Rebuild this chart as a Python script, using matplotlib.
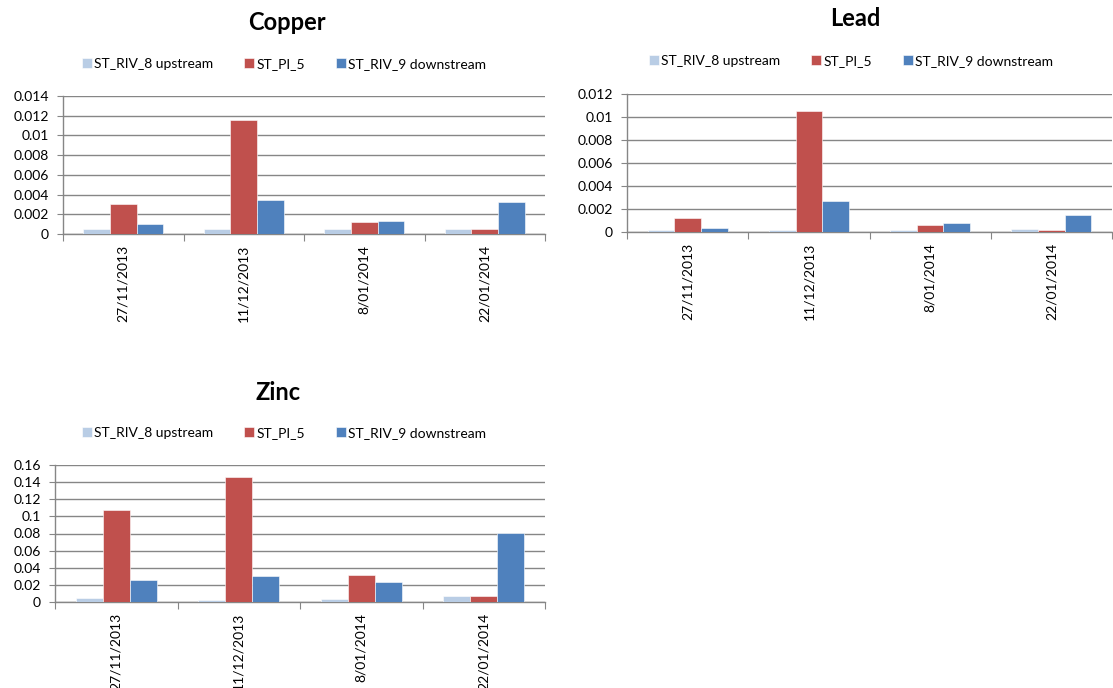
import matplotlib
matplotlib.use("Agg")
import matplotlib.pyplot as plt
import numpy as np
from matplotlib.ticker import FuncFormatter, MultipleLocator

plt.rcParams['font.family'] = ['Lato', 'DejaVu Sans']

dates = ["27/11/2013", "11/12/2013", "8/01/2014", "22/01/2014"]
series_names = ["ST_RIV_8 upstream", "ST_PI_5", "ST_RIV_9 downstream"]
colors = ["#B9CDE5", "#C0504D", "#4F81BD"]

copper_up = [0.0005, 0.0005, 0.0005, 0.0005]
copper_pi = [0.0030, 0.0116, 0.0012, 0.0005]
copper_down = [0.0010, 0.0034, 0.00135, 0.0032]

lead_up = [0.00015, 0.00015, 0.00015, 0.00025]
lead_pi = [0.0012, 0.0105, 0.00058, 0.00017]
lead_down = [0.00038, 0.0027, 0.00078, 0.0015]

zinc_up = [0.0047, 0.002, 0.0035, 0.0074]
zinc_pi = [0.1076, 0.1456, 0.0318, 0.0074]
zinc_down = [0.0252, 0.0302, 0.0237, 0.0804]

W, H = 1113, 688
fig = plt.figure(figsize=(W / 100, H / 100), dpi=100)

GRID = "#868686"


def panel(px_left, px_right, px_top, px_bottom, title, title_xy, legend_xy,
          data, ymax, ystep):
    ax = fig.add_axes([px_left / W, 1 - px_bottom / H,
                       (px_right - px_left) / W, (px_bottom - px_top) / H])
    x = np.arange(len(dates))
    bw = 0.22
    handles = []
    for i, (vals, c, name) in enumerate(zip(data, colors, series_names)):
        b = ax.bar(x + (i - 1) * bw, vals, width=bw, color=c, label=name,
                   edgecolor="white", linewidth=0.4, zorder=3)
        handles.append(b)
    ax.set_xlim(-0.5, len(dates) - 0.5)
    ax.set_ylim(0, ymax)
    ax.yaxis.set_major_locator(MultipleLocator(ystep))
    ax.yaxis.set_major_formatter(FuncFormatter(lambda v, p: f"{round(v, 6):g}"))
    ax.grid(axis="y", color=GRID, linewidth=1.0, zorder=0)
    ax.set_axisbelow(True)
    for s in ["top", "right"]:
        ax.spines[s].set_visible(False)
    for s in ["left", "bottom"]:
        ax.spines[s].set_color(GRID)
        ax.spines[s].set_linewidth(1.0)
    ax.set_xticks(np.arange(-0.5, len(dates) + 0.5, 1.0))
    ax.set_xticklabels([])
    ax.set_xticks(x, minor=True)
    ax.set_xticklabels(dates, minor=True, rotation=90, fontsize=10)
    ax.tick_params(axis="x", which="major", length=5, color=GRID, direction="out")
    ax.tick_params(axis="x", which="minor", length=0, pad=8)
    ax.tick_params(axis="y", length=4, color=GRID, labelsize=10, pad=6)
    fig.text(title_xy[0] / W, 1 - title_xy[1] / H, title, ha="center",
             va="center", fontsize=17, fontweight="bold")
    fig.legend(handles=handles, labels=series_names, loc="center",
               bbox_to_anchor=(legend_xy[0] / W, 1 - legend_xy[1] / H),
               ncol=3, frameon=False, fontsize=10, handlelength=0.75,
               handleheight=0.75, handletextpad=0.15, columnspacing=2.2)
    return ax


panel(63, 545, 96, 234, "Copper", (287, 22), (284, 64),
      [copper_up, copper_pi, copper_down], 0.014, 0.002)
panel(627, 1112, 94, 232, "Lead", (855, 18), (851, 61),
      [lead_up, lead_pi, lead_down], 0.012, 0.002)
panel(55, 545, 465, 602, "Zinc", (278, 392), (284, 433),
      [zinc_up, zinc_pi, zinc_down], 0.16, 0.02)

fig.savefig("out.png", dpi=100)
